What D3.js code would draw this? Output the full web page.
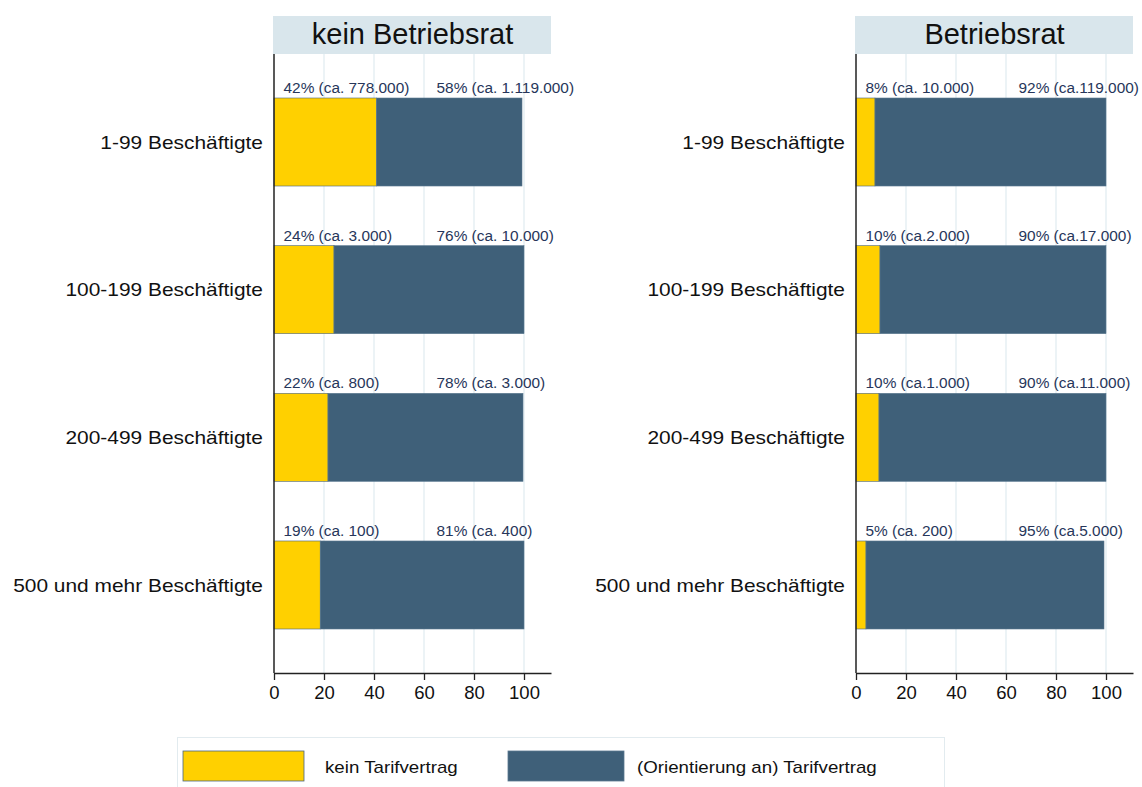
<!DOCTYPE html>
<html>
<head>
<meta charset="utf-8">
<script src="https://cdn.jsdelivr.net/npm/d3@7"></script>
<style>
  body { margin: 0; background: #fff; }
  svg text { font-family: Arial, "Liberation Sans", sans-serif; }
</style>
</head>
<body>
<script>
var fullWidth = 1142;
var fullHeight = 787;

// categories (top to bottom)
var groups = ["1-99 Beschäftigte", "100-199 Beschäftigte", "200-499 Beschäftigte", "500 und mehr Beschäftigte"];
var panels = ["kein Betriebsrat", "Betriebsrat"];
var seriesNames = ["kein Tarifvertrag", "(Orientierung an) Tarifvertrag"];

// bar values (percent), as drawn
var keinBR_kein = [41, 24, 21.6, 18.5];
var keinBR_tarif = [58.2, 76, 78, 81.5];
var mitBR_kein = [7.6, 9.6, 9.2, 4];
var mitBR_tarif = [92.4, 90.4, 90.8, 95.2];

// value labels
var keinBR_labKein = ["42% (ca. 778.000)", "24% (ca. 3.000)", "22% (ca. 800)", "19% (ca. 100)"];
var keinBR_labTarif = ["58% (ca. 1.119.000)", "76% (ca. 10.000)", "78% (ca. 3.000)", "81% (ca. 400)"];
var mitBR_labKein = ["8% (ca. 10.000)", "10% (ca.2.000)", "10% (ca.1.000)", "5% (ca. 200)"];
var mitBR_labTarif = ["92% (ca.119.000)", "90% (ca.17.000)", "90% (ca.11.000)", "95% (ca.5.000)"];

var xTicks = [0, 20, 40, 60, 80, 100];

var colors = ["#ffd000", "#3f6079"];

var panelData = [
    { title: panels[0], left: 274, kein: keinBR_kein, tarif: keinBR_tarif, labK: keinBR_labKein, labT: keinBR_labTarif },
    { title: panels[1], left: 856, kein: mitBR_kein, tarif: mitBR_tarif, labK: mitBR_labKein, labT: mitBR_labTarif }
];

var plotTop = 54, plotBottom = 673, plotW = 277;

// the original font runs a bit wider than Arial, so widen texts a little
function widen(sel, k) {
    sel.each(function() {
        var w = this.getComputedTextLength();
        d3.select(this)
          .attr("textLength", w * k)
          .attr("lengthAdjust", "spacingAndGlyphs");
    });
}

var svg = d3.select("body").append("svg")
            .attr("width", fullWidth)
            .attr("height", fullHeight);

var yScale = d3.scaleBand()
               .domain(groups)
               .range([plotTop, plotBottom])
               .paddingInner(0.404)
               .paddingOuter(0.298);

panelData.forEach(function(p) {
    var xScale = d3.scaleLinear()
                   .domain([0, 110.8])
                   .range([p.left, p.left + plotW]);

    var g = svg.append("g");

    // header strip
    g.append("rect")
     .attr("x", p.left - 1)
     .attr("y", 16)
     .attr("width", plotW + 1)
     .attr("height", 38)
     .style("fill", "#d9e6ec");

    g.append("text")
     .attr("x", p.left + plotW / 2)
     .attr("y", 44)
     .style("text-anchor", "middle")
     .style("font-size", "29px")
     .style("fill", "#111")
     .text(p.title);

    // gridlines
    g.selectAll(".grid")
     .data(xTicks.slice(1))
     .enter()
     .append("line")
     .attr("x1", function(d) { return xScale(d); })
     .attr("x2", function(d) { return xScale(d); })
     .attr("y1", plotTop)
     .attr("y2", plotBottom)
     .style("stroke", "#e6eff3")
     .style("stroke-width", 1.5);

    // stacked bars
    g.selectAll(".kein")
     .data(groups)
     .enter()
     .append("rect")
     .attr("x", xScale(0))
     .attr("y", function(d) { return yScale(d); })
     .attr("width", function(d, i) { return xScale(p.kein[i]) - xScale(0); })
     .attr("height", yScale.bandwidth())
     .style("fill", colors[0])
     .style("stroke", "#4a6580")
     .style("stroke-width", 0.6);

    g.selectAll(".tarif")
     .data(groups)
     .enter()
     .append("rect")
     .attr("x", function(d, i) { return xScale(p.kein[i]); })
     .attr("y", function(d) { return yScale(d); })
     .attr("width", function(d, i) { return xScale(p.kein[i] + p.tarif[i]) - xScale(p.kein[i]); })
     .attr("height", yScale.bandwidth())
     .style("fill", colors[1])
     .style("stroke", "#5a7890")
     .style("stroke-width", 0.6);

    // value labels
    var lk = g.selectAll(".labk")
     .data(groups)
     .enter()
     .append("text")
     .attr("x", xScale(3.8))
     .attr("y", function(d) { return yScale(d) - 5; })
     .style("font-size", "14px")
     .style("fill", "#27365a")
     .text(function(d, i) { return p.labK[i]; });
    widen(lk, 1.1);

    var lt = g.selectAll(".labt")
     .data(groups)
     .enter()
     .append("text")
     .attr("x", xScale(65))
     .attr("y", function(d) { return yScale(d) - 5; })
     .style("font-size", "14px")
     .style("fill", "#27365a")
     .text(function(d, i) { return p.labT[i]; });
    widen(lt, 1.1);

    // category labels
    var cat = g.selectAll(".cat")
     .data(groups)
     .enter()
     .append("text")
     .attr("x", p.left - 11)
     .attr("y", function(d) { return yScale(d) + yScale.bandwidth() / 2; })
     .attr("dy", "0.35em")
     .style("text-anchor", "end")
     .style("font-size", "19px")
     .style("fill", "#111")
     .text(function(d) { return d; });
    widen(cat, 1.1);

    // y axis line
    g.append("line")
     .attr("x1", p.left).attr("x2", p.left)
     .attr("y1", plotTop).attr("y2", plotBottom)
     .style("stroke", "#222")
     .style("stroke-width", 1.5);

    // x axis
    var xAxis = d3.axisBottom(xScale)
                  .tickValues(xTicks)
                  .tickSize(7)
                  .tickPadding(6)
                  .tickSizeOuter(0);

    var ax = g.append("g")
              .attr("transform", "translate(0," + plotBottom + ")")
              .call(xAxis);
    ax.select(".domain").style("stroke", "#222").style("stroke-width", 1.5);
    ax.selectAll(".tick line").style("stroke", "#222").style("stroke-width", 1.3);
    ax.selectAll(".tick text")
      .style("font-size", "18.5px")
      .style("fill", "#111")
      .style("font-family", "Arial, 'Liberation Sans', sans-serif");
});

// legend
var legend = svg.append("g");
legend.append("rect")
      .attr("x", 177.5)
      .attr("y", 737.5)
      .attr("width", 767)
      .attr("height", 60)
      .style("fill", "none")
      .style("stroke", "#e2ebef")
      .style("stroke-width", 1);

var legX = [183, 508];
var legTextX = [325, 637];

legend.selectAll(".sw")
      .data(seriesNames)
      .enter()
      .append("rect")
      .attr("x", function(d, i) { return legX[i]; })
      .attr("y", 751)
      .attr("width", function(d, i) { return i == 0 ? 121 : 116; })
      .attr("height", 30)
      .style("fill", function(d, i) { return colors[i]; })
      .style("stroke", function(d, i) { return i == 0 ? "#4a6580" : "#5a7890"; })
      .style("stroke-width", 0.8);

var lgt = legend.selectAll(".lt")
      .data(seriesNames)
      .enter()
      .append("text")
      .attr("x", function(d, i) { return legTextX[i]; })
      .attr("y", 767)
      .attr("dy", "0.35em")
      .style("font-size", "17px")
      .style("fill", "#111")
      .text(function(d) { return d; });
widen(lgt, 1.1);
</script>
</body>
</html>
